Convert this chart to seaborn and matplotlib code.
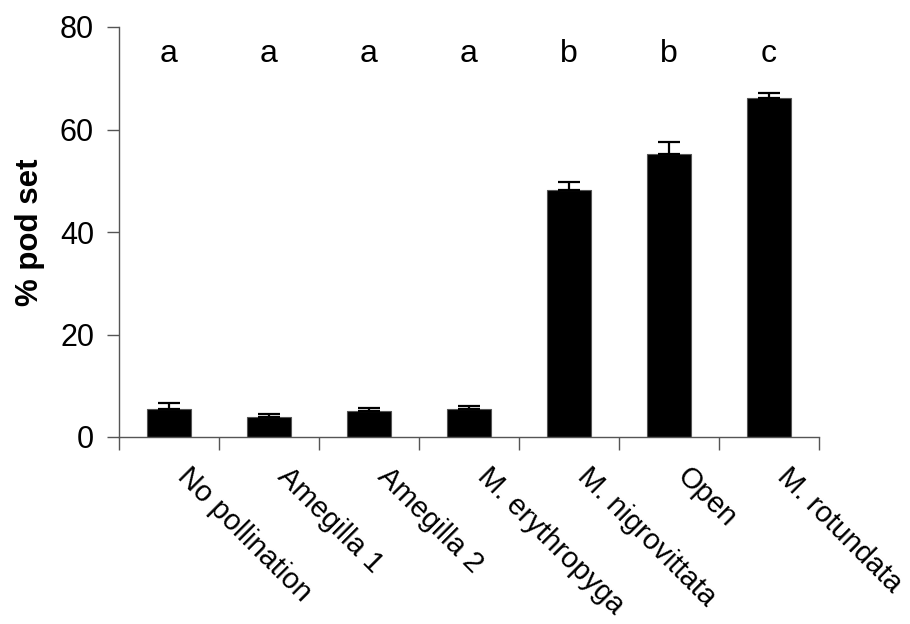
import numpy as np
import pandas as pd
import matplotlib
matplotlib.use("Agg")
import matplotlib.pyplot as plt
import matplotlib.transforms as mtransforms
import seaborn as sns

treatments = ["No pollination", "Amegilla 1", "Amegilla 2", "M. erythropyga",
              "M. nigrovittata", "Open", "M. rotundata"]
pod_set = [5.4, 4.0, 5.0, 5.4, 48.1, 55.2, 66.1]
sem = [1.3, 0.5, 0.7, 0.6, 1.7, 2.3, 1.0]
groups = ["a", "a", "a", "a", "b", "b", "c"]

sns.set_theme(style="ticks")
plt.rcParams["font.family"] = ["Liberation Sans", "DejaVu Sans"]
plt.rcParams["text.color"] = "black"
plt.rcParams["xtick.labelcolor"] = "black"
plt.rcParams["ytick.labelcolor"] = "black"
plt.rcParams["axes.labelcolor"] = "black"

df = pd.DataFrame({"treatment": treatments, "pod_set": pod_set})

fig = plt.figure(figsize=(9.1, 6.24), dpi=100)
ax = fig.add_axes([119 / 910, 187 / 624, 700 / 910, 410 / 624])

sns.barplot(data=df, x="treatment", y="pod_set", order=treatments,
            color="black", width=0.44, errorbar=None, ax=ax,
            edgecolor="#555555", linewidth=0.8)

x = np.arange(len(treatments))
ax.errorbar(x, pod_set, yerr=[np.zeros(len(sem)), sem], fmt="none",
            ecolor="black", elinewidth=1.6, capsize=8, capthick=1.6)

for xi, g in zip(x, groups):
    ax.text(xi, 73.2, g, ha="center", va="baseline", fontsize=23, color="black")

ax.set_xlim(-0.5, len(treatments) - 0.5)
ax.set_ylim(0, 80)
ax.set_yticks([0, 20, 40, 60, 80])
ax.tick_params(axis="y", labelsize=22, length=9, width=1, color="#555555",
               pad=9, direction="out")

ax.set_xticks(x)
ax.set_xticklabels(treatments, rotation=-45, ha="left", va="center",
                   rotation_mode="anchor", fontsize=21)
ax.tick_params(axis="x", which="major", length=0, pad=25.5)
shift = mtransforms.ScaledTranslation(13 / 100, 0, fig.dpi_scale_trans)
for lbl in ax.get_xticklabels():
    lbl.set_transform(lbl.get_transform() + shift)
ax.set_xticks(np.arange(len(treatments) + 1) - 0.5, minor=True)
ax.tick_params(axis="x", which="minor", length=9, width=1, color="#555555",
               direction="out")

ax.set_xlabel("")
ax.set_ylabel("% pod set", fontsize=22.5, fontweight="bold", labelpad=11)

for side in ["top", "right"]:
    ax.spines[side].set_visible(False)
for side in ["left", "bottom"]:
    ax.spines[side].set_color("#555555")
    ax.spines[side].set_linewidth(1)

fig.savefig("out.png", dpi=100, facecolor="white")
